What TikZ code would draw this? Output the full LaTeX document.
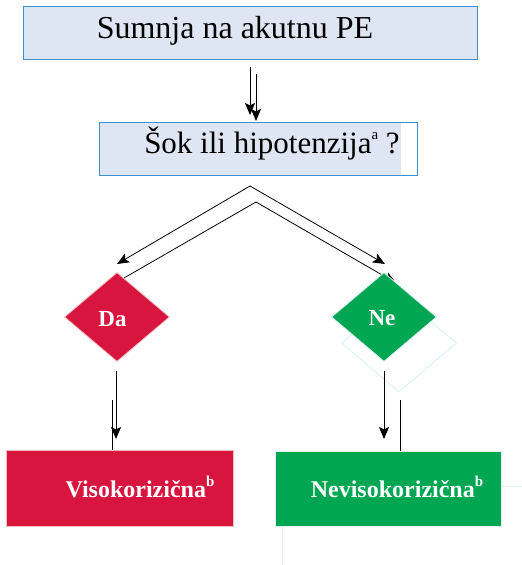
\documentclass[tikz,border=0pt]{standalone}
\usepackage{fontspec}
\setmainfont{Liberation Serif}
\usetikzlibrary{shapes.geometric,arrows.meta}

\definecolor{boxfill}{HTML}{DEE6F4}
\definecolor{boxline}{HTML}{3A8FD6}
\definecolor{riskred}{HTML}{D7153F}
\definecolor{redline}{HTML}{F4BCBC}
\definecolor{riskgreen}{HTML}{00A651}
\definecolor{paleblue}{HTML}{DDF0FB}

\tikzset{
  querybox/.style={draw=boxline, line width=1pt, inner sep=0pt, anchor=north west},
  riskbox/.style={inner sep=0pt, anchor=north west, line width=1pt},
  choice/.style={diamond, inner sep=0pt, minimum width=105pt, minimum height=89pt, line width=0.8pt},
  plain/.style={anchor=base, inner sep=0pt, font=\fontsize{31}{35}\selectfont},
  bold/.style={anchor=base, inner sep=0pt, text=white, font=\bfseries\fontsize{24}{28}\selectfont},
  flow/.style={line width=0.8pt, -{Stealth[length=12pt,width=10pt,inset=2.5pt]}},
  bare/.style={line width=0.8pt},
  ghost/.style={draw=paleblue, line width=1pt}
}
\newcommand{\supmark}[1]{\raisebox{0.45em}{\fontsize{15}{17}\selectfont #1}}

\begin{document}
\begin{tikzpicture}[x=1pt,y=-1pt]
\useasboundingbox (0,0) rectangle (522,565);

% faint leftover outlines
\node[ghost, diamond, inner sep=0pt, minimum width=115pt, minimum height=98pt] (shadow) at (399,343) {};
\coordinate (ghostR) at (522,486);
\coordinate (ghostB) at (282,565);

% top question boxes
\node[querybox, fill=boxfill, minimum width=454pt, minimum height=53pt] (start) at (23,6) {};
\node[plain, font=\fontsize{32}{36}\selectfont] (starttxt) at (235,38) {Sumnja na akutnu PE};

\fill[boxfill] (99,122) rectangle (401,175);
\node[querybox, minimum width=318pt, minimum height=53pt] (shock) at (99,122) {};
\node[plain] (shocktxt) at (272,153) {Šok ili hipotenzija\supmark{a} ?};

% doubled arrow between the boxes
\coordinate (a1s) at (250,67);  \coordinate (a1e) at (250,115);
\coordinate (a2s) at (256,74);  \coordinate (a2e) at (256,121);
\draw[flow] (a1s) -- (a1e);
\draw[flow] (a2s) -- (a2e);

% branching arrows
\coordinate (apex1) at (250,186);
\coordinate (apex2) at (256,202);
\coordinate (l1) at (117,264);
\coordinate (r1) at (385,264);
\coordinate (l2) at (124,278);
\coordinate (r2) at (396,283);
\draw[flow] (apex1) -- (l1);
\draw[flow] (apex1) -- (r1);
\draw[bare] (l2) -- (apex2);
\draw[flow] (apex2) -- (r2);

% decision diamonds
\node[choice, fill=riskred, draw=redline] (yes) at (117,317) {};
\node[bold, font=\bfseries\fontsize{23}{26}\selectfont] (yestxt) at (112.5,326) {Da};
\node[choice, fill=riskgreen, draw=paleblue] (no) at (384,317) {};
\node[bold, font=\bfseries\fontsize{23}{26}\selectfont] (notxt) at (382,325) {Ne};

% outcome boxes
\node[riskbox, fill=riskred, draw=redline, minimum width=227pt, minimum height=76pt] (high) at (6,450) {};
\node[bold] (hightxt) at (140,497) {Visokorizična\supmark{b}};
\node[riskbox, fill=riskgreen, draw=paleblue, minimum width=226pt, minimum height=75pt] (low) at (275,451) {};
\node[bold] (lowtxt) at (397,497) {Nevisokorizična\supmark{b}};

% doubled arrows to the outcomes
\coordinate (d1s) at (116,371); \coordinate (d1e) at (116,439);
\coordinate (d2s) at (112,400); \coordinate (d2e) at (112,450);
\coordinate (n1s) at (384,371); \coordinate (n1e) at (384,439);
\coordinate (n2s) at (400,400); \coordinate (n2e) at (400,451);
\draw[flow] (d1s) -- (d1e);
\draw[bare] (d2s) -- (d2e);
\draw[flow] (n1s) -- (n1e);
\draw[bare] (n2s) -- (n2e);

% faint guide lines
\draw[ghost] (low.east |- ghostR) -- (ghostR);
\draw[ghost] (low.south west -| ghostB) -- (ghostB);
\end{tikzpicture}
\end{document}
